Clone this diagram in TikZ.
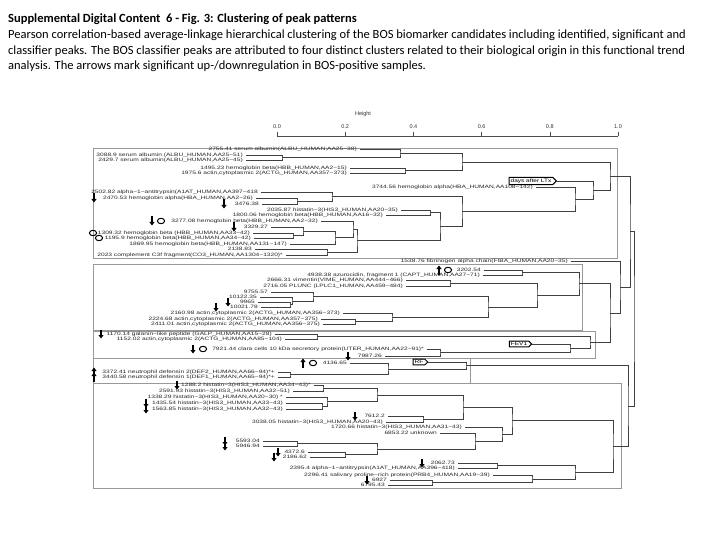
\documentclass[tikz,border=0pt]{standalone}
\usepackage{fontspec}
\usepackage{graphicx}
\setmainfont{Carlito}
\newfontfamily\dfont{Liberation Sans}
\usetikzlibrary{calc,shapes.symbols,arrows.meta}
\newcommand\Lf[4]{\node[lbl] (t#1) at (#2,#3) {\scalebox{1.38}[1]{#4}};\coordinate (#1) at ([xshift=3pt]t#1.east);}
\newcommand\Jn[4]{\path let \p1=($(#3)!.5!(#4)$) in coordinate (#1) at (#2pt,\y1);\draw[dl] (#3) -| (#1) |- (#4);}
\tikzset{
 lbl/.style={font=\dfont\fontsize{4.8}{5}\selectfont,text=black!85,inner sep=0pt,anchor=east},
 dl/.style={draw=black!75,line width=0.5pt},
 bx/.style={draw=black!40,line width=0.5pt},
 tg/.style={shape=signal,signal to=east,draw=black,line width=1pt,fill=white,inner xsep=1.5pt,inner ysep=1.2pt,font=\dfont\fontsize{5}{5}\selectfont},
 ttl/.style={anchor=west,inner sep=0pt,font=\fontsize{12.5}{14}\selectfont},
 axl/.style={font=\dfont\fontsize{5.5}{6}\selectfont,text=black!80,inner sep=0pt},
 darr/.pic={\draw[line width=1.2pt,-{Triangle[width=5pt,length=3.5pt]}] (0,-4.5) -- (0,4.5);},
 uarr/.pic={\draw[line width=1.2pt,-{Triangle[width=5pt,length=3.5pt]}] (0,4.5) -- (0,-4.5);},
 circ/.pic={\draw[line width=1pt] (0,0) ellipse (3.6pt and 2.7pt);},
}
\begin{document}
\begin{tikzpicture}[x=1pt,y=-1pt]
\useasboundingbox (0,0) rectangle (720,540);
\fill[white] (0,0) rectangle (720,540);
% title
\node[ttl,font=\bfseries\fontsize{12.5}{14}\selectfont] (h1) at (8,19) {Supplemental Digital Content\ \ 6 - Fig. 3: Clustering of peak patterns};
\node[ttl] (h2) at (8,35) {Pearson correlation-based average-linkage hierarchical clustering of the BOS biomarker candidates including identified, significant and};
\node[ttl] (h3) at (8,51) {classifier peaks. The BOS classifier peaks are attributed to four distinct clusters related to their biological origin in this functional trend};
\node[ttl] (h4) at (8,66) {analysis. The arrows mark significant up-/downregulation in BOS-positive samples.};
% axis
\node[axl] (hgt) at (363,114) {Height};
\draw[black!70,line width=0.5pt] (277,136) -- (618,136);
\foreach \v/\x [count=\i] in {0.0/277,0.2/345.2,0.4/413.4,0.6/481.6,0.8/549.8,1.0/618}{
  \draw[black!70,line width=0.5pt] (\x,136) -- (\x,132);
  \node[axl] (ax\i) at (\x,127) {\v};}
% boxes
\draw[bx] (93,148) rectangle (617,258);
\draw[bx] (93,264) rectangle (582,330);
\draw[bx] (93,331) rectangle (595,358);
\draw[bx] (93,358) rectangle (470,383);
\draw[bx] (93,383) rectangle (621,488);
% ---------- cluster 1
\Lf{a1}{357}{149}{2755.41 serum albumin(ALBU\_HUMAN,AA25−38)}
\Lf{a2}{243}{155}{3088.9 serum albumin (ALBU\_HUMAN,AA25−51)}
\Lf{a3}{243}{160}{2429.7 serum albumin(ALBU\_HUMAN,AA25−45)}
\Lf{a4}{347}{168}{1495.23 hemoglobin beta(HBB\_HUMAN,AA2−15)}
\Lf{a5}{347}{173}{1975.6 actin,cytoplasmic 2(ACTG\_HUMAN,AA357−373)}
\Lf{a6}{533}{187}{3744.56 hemoglobin alpha(HBA\_HUMAN,AA108−142)}
\Lf{a7}{258}{192}{2502.82 alpha−1−antitrypsin(A1AT\_HUMAN,AA397−418}
\Lf{a8}{253}{198}{2470.53 hemoglobin alpha(HBA\_HUMAN,AA2−26)}
\Lf{a9}{259}{204}{3476.38}
\Lf{a10}{398}{210}{2035.87 histatin−3(HIS3\_HUMAN,AA20−35)}
\Lf{a11}{383}{215}{1800.06 hemoglobin beta(HBB\_HUMAN,AA16−32)}
\Lf{a12}{318}{221}{3277.08 hemoglobin beta(HBB\_HUMAN,AA2−32)}
\Lf{a13}{268}{227}{3329.27}
\Lf{a14}{250}{233}{1309.32 hemoglobin beta (HBB\_HUMAN,AA33−42)}
\Lf{a15}{251}{238}{1195.9 hemoglobin beta(HBB\_HUMAN,AA34−42)}
\Lf{a16}{287}{244}{1869.95 hemoglobin beta(HBB\_HUMAN,AA131−147)}
\Lf{a17}{252}{249}{2138.83}
\Lf{a18}{283}{255}{2023 complement C3f fragment(CO3\_HUMAN,AA1304−1320)*}
\node[tg] (LTx) at (531,181) {\scalebox{1.3}[1]{days after LTx}};
\coordinate (cLTx) at (LTx.east);
\Jn{j23}{282}{a2}{a3}
\Jn{j123}{400}{a1}{j23}
\Jn{j45}{405}{a4}{a5}
\Jn{jA}{462}{j123}{j45}
\Jn{j89}{297}{a8}{a9}
\Jn{j789}{332}{a7}{j89}
\Jn{j1011}{430}{a10}{a11}
\Jn{j1415}{293}{a14}{a15}
\Jn{j1315}{303}{a13}{j1415}
\Jn{j1316}{335}{j1315}{a16}
\Jn{j1216}{353}{a12}{j1316}
\Jn{j1718}{327}{a17}{a18}
\Jn{jLow}{357}{j1216}{j1718}
\Jn{jLow2}{440}{j1011}{jLow}
\Jn{jB}{462}{j789}{jLow2}
\Jn{j6B}{575}{a6}{jB}
\Jn{jL}{593}{cLTx}{j6B}
\Jn{jC1}{610}{jA}{jL}
\pic at (94,198) {darr};
\pic at (224,204) {darr};
\pic at (152,221) {darr};
\pic at (161,221) {circ};
\pic at (234,227) {darr};
\pic at (93,233) {circ};
\pic at (99,238) {circ};
% ---------- cluster 2
\Lf{b0}{568}{261}{1538.76 fibrinogen alpha chain(FIBA\_HUMAN,AA20−35)}
\Lf{b1}{481}{270}{3202.54}
\Lf{b2}{480}{275}{4938.38 azurocidin, fragment 1 (CAPT\_HUMAN,AA27−71)}
\Lf{b3}{403}{280}{2666.31 vimentin(VIME\_HUMAN,AA444−466)}
\Lf{b4}{403}{286}{2716.05 PLUNC (LPLC1\_HUMAN,AA459−484)}
\Lf{b5}{268}{292}{9755.57}
\Lf{b6}{257}{297}{10122.35}
\Lf{b7}{255}{302}{9965}
\Lf{b8}{258}{307}{10021.78}
\Lf{b9}{340}{313}{2160.98 actin,cytoplasmic 2(ACTG\_HUMAN,AA356−373)}
\Lf{b10}{318}{319}{2224.68 actin,cytoplasmic 2(ACTG\_HUMAN,AA357−375)}
\Lf{b11}{320}{324}{2411.01 actin,cytoplasmic 2(ACTG\_HUMAN,AA356−375)}
\Lf{b12}{272}{334}{1170.14 galanin−like peptide (GALP\_HUMAN,AA15−28)}
\Lf{b13}{282}{339}{1152.02 actin,cytoplasmic 2(ACTG\_HUMAN,AA85−104)}
\Lf{b14}{424}{349}{7921.44 clara cells 10 kDa secretory protein(UTER\_HUMAN,AA22−91)*}
\Lf{b15}{382}{356}{7987.26}
\node[tg] (FEV) at (519,344) {\scalebox{1.3}[1]{FEV1}};
\coordinate (cFEV) at (FEV.east);
\Jn{j12b}{522}{b1}{b2}
\Jn{j34b}{450}{b3}{b4}
\Jn{j78b}{290}{b7}{b8}
\Jn{j678}{292}{b6}{j78b}
\Jn{j5678}{313}{b5}{j678}
\Jn{j1011b}{355}{b10}{b11}
\Jn{j911}{392}{b9}{j1011b}
\Jn{jAct}{488}{j5678}{j911}
\Jn{j34Act}{537}{j34b}{jAct}
\Jn{jC2}{579}{j12b}{j34Act}
\Jn{j1213}{317}{b12}{b13}
\Jn{jCl}{440}{b14}{b15}
\Jn{jFEV}{570}{cFEV}{jCl}
\Jn{jG}{590}{j1213}{jFEV}
\Jn{jC23}{610}{jC2}{jG}
\Jn{jF}{620}{b0}{jC23}
\pic at (439,270) {uarr};
\pic at (448,270) {circ};
\pic at (228,302) {darr};
\pic at (216,307) {darr};
\pic at (101,334) {darr};
\pic at (193,349) {darr};
\pic at (203,349) {circ};
\pic at (348,356) {darr};
% ---------- cluster RF
\Lf{c1}{347}{363}{4136.65}
\Lf{c2}{275}{372}{3372.41 neutrophil defensin 2(DEF2\_HUMAN,AA66−94)*+}
\Lf{c3}{275}{377}{3440.58 neutrophil defensin 1(DEF1\_HUMAN,AA65−94)*+}
\node[tg] (RF) at (419,362) {\scalebox{1.3}[1]{RF}};
\coordinate (cRF) at (RF.east);
\Jn{j23c}{290}{c2}{c3}
\Jn{jc}{388}{c1}{j23c}
\Jn{jRF}{466}{cRF}{jc}
\pic at (303,363) {uarr};
\pic at (313,363) {circ};
\pic at (94,372) {uarr};
\pic at (94,377) {uarr};
% ---------- cluster 5
\Lf{d1}{311}{385}{1288.2 histatin−3(HIS3\_HUMAN,AA34−43)*}
\Lf{d2}{290}{391}{2591.93 histatin−3(HIS3\_HUMAN,AA32−51)}
\Lf{d3}{283}{397}{1338.29 histatin−3(HIS3\_HUMAN,AA20−30) *}
\Lf{d4}{283}{403}{1435.54 histatin−3(HIS3\_HUMAN,AA33−43)}
\Lf{d5}{283}{409}{1563.85 histatin−3(HIS3\_HUMAN,AA32−43)}
\Lf{d6}{385}{416}{7612.2}
\Lf{d7}{383}{422}{3038.05 histatin−3(HIS3\_HUMAN,AA20−43)}
\Lf{d8}{462}{427}{1720.66 histatin−3(HIS3\_HUMAN,AA31−43)}
\Lf{d9}{437}{433}{6853.22 unknown}
\Lf{d10}{260}{441}{5593.04}
\Lf{d11}{260}{446}{5946.94}
\Lf{d12}{305}{452}{4372.6}
\Lf{d13}{307}{457}{2186.62}
\Lf{d14}{455}{463}{2062.73}
\Lf{d15}{455}{468}{2395.4 alpha−1−antitrypsin(A1AT\_HUMAN,AA396−418)}
\Lf{d16}{490}{475}{2296.41 salivary proline−rich protein(PRB4\_HUMAN,AA19−39)}
\Lf{d17}{387}{480}{6927}
\Lf{d18}{385}{485}{6795.43}
\Jn{j12d}{323}{d1}{d2}
\Jn{j45d}{322}{d4}{d5}
\Jn{j345d}{327}{d3}{j45d}
\Jn{jH1}{377}{j12d}{j345d}
\Jn{j67d}{423}{d6}{d7}
\Jn{jH2}{463}{jH1}{j67d}
\Jn{j1011d}{297}{d10}{d11}
\Jn{j1213d}{345}{d12}{d13}
\Jn{jS}{377}{j1011d}{j1213d}
\Jn{j9S}{475}{d9}{jS}
\Jn{j89S}{502}{d8}{j9S}
\Jn{jH}{512}{jH2}{j89S}
\Jn{j1415d}{497}{d14}{d15}
\Jn{j1718d}{432}{d17}{d18}
\Jn{j16d}{532}{d16}{j1718d}
\Jn{jB5}{575}{j1415d}{j16d}
\Jn{jC5}{613}{jH}{jB5}
\pic at (177,385) {darr};
\pic at (146,403) {darr};
\pic at (146,409) {darr};
\pic at (355,416) {darr};
\pic at (225,441) {darr};
\pic at (225,446) {darr};
\pic at (278,452) {darr};
\pic at (274,457) {darr};
\pic at (422,463) {darr};
\pic at (367,480) {darr};
% ---------- root
\Jn{jR1}{630}{jC1}{jF}
\Jn{jR2}{628}{jRF}{jC5}
\Jn{jRoot}{634}{jR1}{jR2}
\end{tikzpicture}
\end{document}
